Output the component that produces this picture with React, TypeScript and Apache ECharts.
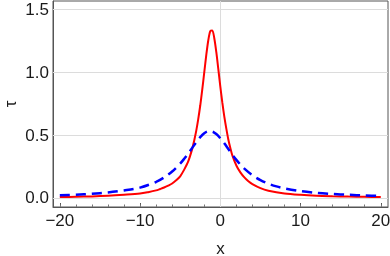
import { useEffect, useRef } from "react";
import * as echarts from "echarts";

// Red solid curve
const redX = [-20, -18, -16, -14, -12, -10, -9, -8, -7.5, -7, -6.5, -6, -5.5, -5, -4.5, -4, -3.5, -3.25, -3, -2.75, -2.5, -2.25, -2, -1.75, -1.5, -1.25, -1, -0.75, -0.5, -0.25, 0, 0.25, 0.5, 0.75, 1, 1.25, 1.5, 2, 2.5, 3, 3.5, 4, 5, 6, 8, 10, 12, 14, 16, 18, 20];
const redY = [0.007, 0.0095, 0.012, 0.017, 0.025, 0.035, 0.046, 0.06, 0.071, 0.083, 0.098, 0.115, 0.14, 0.172, 0.225, 0.29, 0.39, 0.457, 0.533, 0.626, 0.735, 0.861, 0.998, 1.135, 1.252, 1.327, 1.332, 1.27, 1.161, 1.026, 0.888, 0.759, 0.646, 0.551, 0.465, 0.397, 0.338, 0.258, 0.203, 0.163, 0.133, 0.11, 0.078, 0.058, 0.036, 0.025, 0.018, 0.014, 0.011, 0.009, 0.007];

// Blue dashed curve
const blueX = [-20, -18, -16, -14, -12, -10, -8, -7, -6, -5, -4.5, -4, -3.5, -3, -2.5, -2, -1.5, -1, -0.5, 0, 0.5, 1, 1.5, 2, 2.5, 3, 4, 5, 6, 7, 8, 10, 12, 14, 16, 18, 20];
const blueY = [0.021, 0.026, 0.033, 0.044, 0.06, 0.082, 0.127, 0.163, 0.21, 0.273, 0.311, 0.353, 0.398, 0.443, 0.483, 0.514, 0.5295, 0.5277, 0.508, 0.475, 0.434, 0.389, 0.344, 0.303, 0.2655, 0.233, 0.18, 0.142, 0.113, 0.092, 0.076, 0.054, 0.04, 0.031, 0.025, 0.02, 0.016];

const xTickLabels = [-20, -10, 0, 10, 20];
const xMinorTicks = [-20, -18, -16, -14, -12, -10, -8, -6, -4, -2, 0, 2, 4, 6, 8, 10, 12, 14, 16, 18, 20];
const yTickLabels = [0, 0.5, 1, 1.5];
const xGridLines = [0];

const FONT = "'Liberation Sans', Arial, sans-serif";
const AXIS_COLOR = "#555";
const GRID_COLOR = "#dcdcdc";

export default function App() {
  const ref = useRef<HTMLDivElement>(null);
  useEffect(() => {
    const chart = echarts.init(ref.current!, null, { renderer: "svg" });
    const xMin = -20.85;
    const xMax = 20.9;
    const yMin = -0.072;
    const yMax = 1.566;
    chart.setOption({
      animation: false,
      grid: {
        left: 53,
        right: 2,
        top: 1,
        bottom: 49,
        containLabel: false,
        outerBoundsMode: "none",
        show: true,
        borderColor: AXIS_COLOR,
        borderWidth: 1,
        backgroundColor: "transparent",
      },
      xAxis: [
        {
          type: "value",
          min: xMin,
          max: xMax,
          position: "bottom",
          name: "x",
          nameLocation: "middle",
          nameGap: 34,
          nameMoveOverlap: false,
          nameTextStyle: { fontFamily: FONT, fontSize: 17, lineHeight: 14, color: "#1a1a1a" },
          axisLine: { show: true, onZero: false, lineStyle: { color: AXIS_COLOR, width: 1 } },
          axisTick: {
            show: true,
            inside: true,
            length: 4,
            customValues: xTickLabels,
            lineStyle: { color: AXIS_COLOR },
          },
          axisLabel: {
            show: true,
            customValues: xTickLabels,
            margin: 5,
            fontFamily: FONT,
            fontSize: 17,
            color: "#1a1a1a",
            formatter: (v: number) => (v < 0 ? "\u2212" + Math.abs(v) : String(v)),
          },
          splitLine: { show: false },
        },
        {
          type: "value",
          min: xMin,
          max: xMax,
          position: "bottom",
          axisLine: { show: false, onZero: false },
          axisTick: {
            show: true,
            inside: true,
            length: 2.5,
            customValues: xMinorTicks,
            lineStyle: { color: "#777" },
          },
          axisLabel: { show: false },
          splitLine: { show: false },
        },
      ],
      yAxis: {
        type: "value",
        min: yMin,
        max: yMax,
        name: "τ",
        nameLocation: "middle",
        nameGap: 36,
        nameRotate: 90,
        nameMoveOverlap: false,
        nameTextStyle: { fontFamily: FONT, fontSize: 17, lineHeight: 14, color: "#1a1a1a" },
        axisLine: { show: true, onZero: false, lineStyle: { color: AXIS_COLOR, width: 1 } },
        axisTick: { show: false },
        axisLabel: {
          show: true,
          customValues: yTickLabels,
          margin: 4,
          fontFamily: FONT,
          fontSize: 17,
          color: "#1a1a1a",
          formatter: (v: number) => v.toFixed(1),
        },
        splitLine: { show: false },
      },
      series: [
        {
          type: "line",
          name: "blue",
          xAxisIndex: 0,
          data: blueX.map((x, i) => [x, blueY[i]]),
          smooth: 0.3,
          symbol: "none",
          z: 3,
          lineStyle: { color: "#0000ff", width: 2.5, type: [10, 6] },
          markLine: {
            silent: true,
            symbol: "none",
            z: 1,
            label: { show: false },
            lineStyle: { color: GRID_COLOR, width: 1, type: "solid" },
            data: [
              ...yTickLabels.map((v) => ({ yAxis: v })),
              ...xGridLines.map((v) => ({ xAxis: v })),
            ],
          },
        },
        {
          type: "line",
          name: "red",
          xAxisIndex: 0,
          data: redX.map((x, i) => [x, redY[i]]),
          smooth: 0.3,
          symbol: "none",
          z: 2,
          lineStyle: { color: "#ff0000", width: 2 },
        },
      ],
    });
    return () => chart.dispose();
  }, []);
  return <div ref={ref} style={{ position: "fixed", left: 0, top: 0, width: 390, height: 256 }} />;
}
